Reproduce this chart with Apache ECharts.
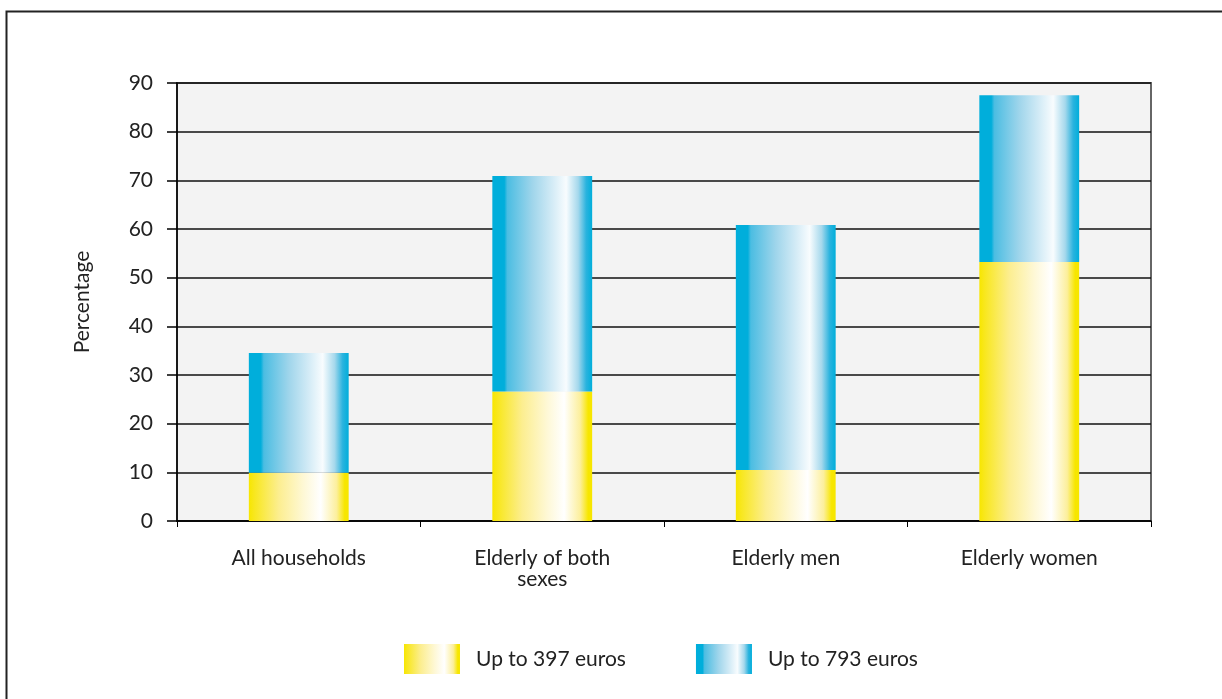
<!DOCTYPE html>
<html>
<head>
<meta charset="utf-8">
<script src="https://cdn.jsdelivr.net/npm/echarts@6/dist/echarts.min.js"></script>
<style>
html,body{margin:0;padding:0;background:#fff;}
#chart{width:1222px;height:699px;}
</style>
</head>
<body>
<div id="chart"></div>
<script>
const categories = ['All households', 'Elderly of both\nsexes', 'Elderly men', 'Elderly women'];
const seriesNames = ['Up to 397 euros', 'Up to 793 euros'];
const upTo397 = [9.9, 26.6, 10.5, 53.2];
const upTo793Extra = [24.6, 44.3, 50.3, 34.3];
const yTicks = [0, 10, 20, 30, 40, 50, 60, 70, 80, 90];

const FONT = 'Lato';
const yellowGrad = new echarts.graphic.LinearGradient(0, 0, 1, 0, [
  {offset: 0, color: '#f7e600'},
  {offset: 0.05, color: '#f8e71c'},
  {offset: 0.3, color: '#fcee90'},
  {offset: 0.55, color: '#fef8d6'},
  {offset: 0.72, color: '#ffffff'},
  {offset: 0.88, color: '#fcef9c'},
  {offset: 0.96, color: '#f7e600'},
  {offset: 1, color: '#f7e600'}
]);
const blueGrad = new echarts.graphic.LinearGradient(0, 0, 1, 0, [
  {offset: 0, color: '#00aedb'},
  {offset: 0.12, color: '#00aedb'},
  {offset: 0.15, color: '#4bbde2'},
  {offset: 0.4, color: '#9fd5eb'},
  {offset: 0.6, color: '#d3ebf6'},
  {offset: 0.74, color: '#f8fcfe'},
  {offset: 0.86, color: '#a5d8ec'},
  {offset: 0.94, color: '#2ab3de'},
  {offset: 1, color: '#00aedb'}
]);

const chart = echarts.init(document.getElementById('chart'), null, {renderer: 'canvas'});
chart.setOption({
  animation: false,
  backgroundColor: '#ffffff',
  textStyle: {fontFamily: FONT},
  graphic: [{
    type: 'rect',
    shape: {x: 6.5, y: 11.5, width: 1240, height: 720},
    style: {fill: 'none', stroke: '#222', lineWidth: 2},
    silent: true
  }],
  grid: {
    left: 177, right: 71, top: 83, bottom: 178,
    show: true, backgroundColor: '#f3f3f3', borderColor: '#666', borderWidth: 2
  },
  legend: {
    top: 644,
    left: 404,
    padding: 0,
    itemWidth: 56,
    itemHeight: 30,
    itemGap: 70,
    icon: 'rect',
    textStyle: {fontSize: 21, color: '#222', fontFamily: FONT, padding: [0, 0, 0, 11]},
    data: seriesNames
  },
  xAxis: {
    type: 'category',
    data: categories,
    axisLine: {lineStyle: {color: '#000', width: 1.5}},
    axisTick: {show: true, length: 6, lineStyle: {color: '#000'}},
    axisLabel: {fontSize: 21, color: '#222', margin: 27, lineHeight: 21, fontFamily: FONT}
  },
  yAxis: {
    type: 'value',
    min: 0, max: 90, interval: 10,
    name: 'Percentage',
    nameLocation: 'middle',
    nameGap: 84,
    nameRotate: 90,
    nameTextStyle: {fontSize: 21, color: '#222', fontFamily: FONT},
    axisLine: {show: true, lineStyle: {color: '#000', width: 1.5}},
    axisTick: {show: true, length: 10, lineStyle: {color: '#000', width: 1.5}},
    axisLabel: {fontSize: 21, color: '#222', margin: 24, fontFamily: FONT,
      formatter: v => yTicks.includes(v) ? String(v) : ''},
    splitLine: {show: true, lineStyle: {color: '#111', width: 1.5}}
  },
  series: [
    {
      name: seriesNames[0], type: 'bar', stack: 'total', data: upTo397,
      barWidth: '41%', itemStyle: {color: yellowGrad}
    },
    {
      name: seriesNames[1], type: 'bar', stack: 'total', data: upTo793Extra,
      barWidth: '41%', itemStyle: {color: blueGrad}
    }
  ]
});
</script>
</body>
</html>
